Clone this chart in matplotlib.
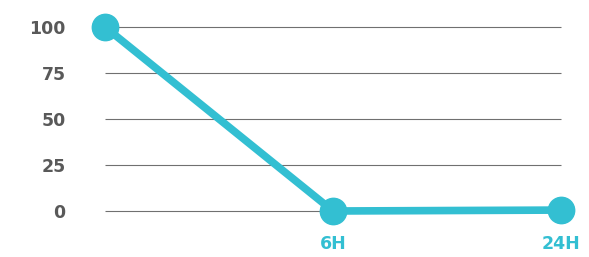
import matplotlib
matplotlib.use("Agg")
import matplotlib.pyplot as plt

categories = ["", "6H", "24H"]
values = [100, 0, 0.5]
yticks = [0, 25, 50, 75, 100]

color = "#33bfd2"
fig = plt.figure(figsize=(5.89, 2.57), dpi=100)
ax = fig.add_axes([82.2/589, 1 - 229.4/257, (583.8-82.2)/589, (229.4-8.6)/257])
x = list(range(len(categories)))
ax.hlines(yticks, 0, 2, colors="#707070", linewidth=0.8, zorder=1)
ax.plot(x, values, color=color, linewidth=5.5, marker="o", markersize=19,
        solid_capstyle="round", zorder=3, clip_on=False)
ax.set_xlim(-0.1, 2.1)
ax.set_ylim(-10, 110)
ax.set_xticks(x)
ax.set_xticklabels(categories, color=color, fontsize=12.5, fontweight="bold",
                   family="DejaVu Sans")
ax.set_yticks(yticks)
ax.set_yticklabels([str(v) for v in yticks], color="#595959", fontsize=12.5,
                   fontweight="semibold", family="DejaVu Sans")
ax.tick_params(axis="both", length=0)
ax.tick_params(axis="y", pad=12)
ax.tick_params(axis="x", pad=4)
for s in ax.spines.values():
    s.set_visible(False)
fig.savefig("out.png", dpi=100)
